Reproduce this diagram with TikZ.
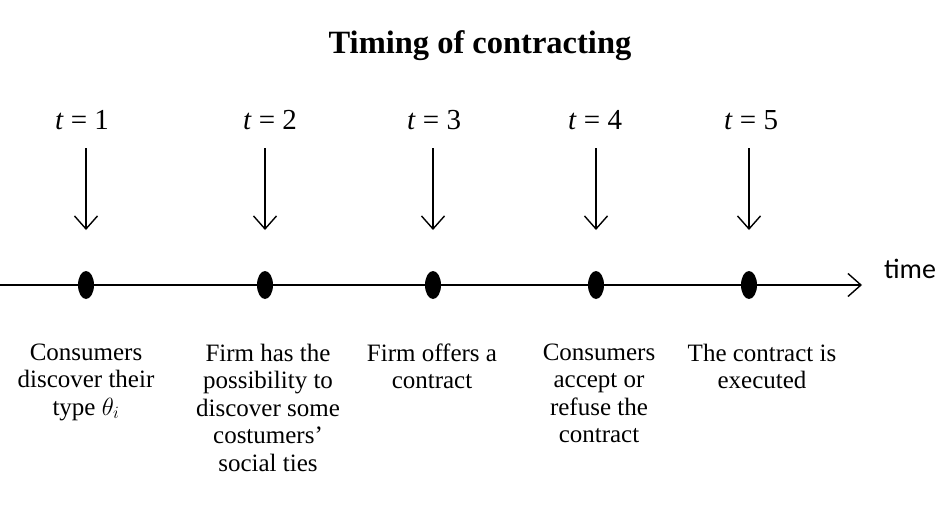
\documentclass[tikz,border=0pt]{standalone}
\usepackage{fontspec}
\setmainfont{Liberation Serif}
\newfontfamily\timefont{Carlito}
\usetikzlibrary{positioning, arrows.meta, shapes.geometric}

\begin{document}
\begin{tikzpicture}[x=1pt,y=-1pt,line width=1.4pt,
    >={Straight Barb[length=13pt,width=23pt,line width=1.4pt]},
    dot/.style={ellipse,fill,inner sep=0pt,minimum width=16pt,minimum height=28pt},
    tlabel/.style={inner sep=0pt,font=\fontsize{29}{32}\selectfont},
    event/.style={anchor=north,align=center,inner sep=0pt,
      font=\fontsize{25}{27.5}\selectfont}]
  \useasboundingbox (0,0) rectangle (940,506);
  \node[font=\bfseries\fontsize{32.5}{36}\selectfont] (title) at (480,46) {Timing of contracting};
  % time axis
  \coordinate (start) at (0,285);
  \coordinate (end) at (862,285);
  \draw[->] (start) -- (end);
  \node[font=\timefont\fontsize{28}{30}\selectfont,anchor=west] (time) at (880,269) {time};
  % events
  \foreach \i/\x/\tx in {1/86/82, 2/265/270, 3/433/434, 4/596/595, 5/749/751} {
    \node[dot] (d\i) at (\x,285) {};
    \coordinate (v\i) at (\x,230);
    \node[tlabel] (t\i) at (\tx,120) {\textit{t} = \i};
    \coordinate (u\i) at (\x,148);
    \draw[->] (u\i) -- (v\i);
  }
  \node[event] (e1) at (86,343) {Consumers\\discover their\\type $\theta_i$};
  \node[event] (e2) at (268,343) {Firm has the\\possibility to\\discover some\\costumers'\\social ties};
  \node[event] (e3) at (432,343) {Firm offers a\\contract};
  \node[event] (e4) at (599,343) {Consumers\\accept or\\refuse the\\contract};
  \node[event] (e5) at (762,343) {The contract is\\executed};
\end{tikzpicture}
\end{document}
